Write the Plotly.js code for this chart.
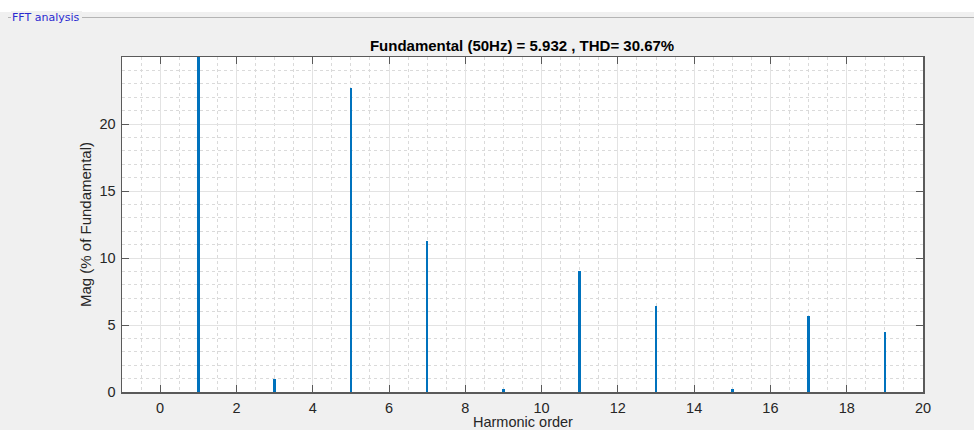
<!DOCTYPE html>
<html>
<head>
<meta charset="utf-8">
<script src="https://cdn.plot.ly/plotly-3.0.1.min.js"></script>
<style>
  html, body { margin: 0; padding: 0; width: 974px; height: 430px; overflow: hidden; background: #f0f0f0; }
  #top { position: absolute; left: 0; top: 0; width: 974px; height: 12px; background: #ffffff; }
  #gline { position: absolute; left: 8px; top: 17px; width: 966px; height: 1px; background: #b4b4b4; }
  #glabel { position: absolute; left: 11px; top: 11px; padding: 0 3px 0 1px; background: #f0f0f0;
            font-family: "DejaVu Sans", sans-serif; font-size: 11px; color: #2a2ad0; line-height: 13px; }
  #chart { position: absolute; left: 0; top: 0; width: 974px; height: 430px; }
</style>
</head>
<body>
<div id="top"></div>
<div id="gline"></div>
<div id="glabel">FFT analysis</div>
<div id="chart"></div>
<script>
const harmonicOrder = [0, 1, 2, 3, 4, 5, 6, 7, 8, 9, 10, 11, 12, 13, 14, 15, 16, 17, 18, 19, 20];
const magPercent    = [0, 100, 0, 0.95, 0, 22.67, 0, 11.29, 0, 0.25, 0, 9.04, 0, 6.40, 0, 0.20, 0, 5.66, 0, 4.51, 0];
const xTickVals = [0, 2, 4, 6, 8, 10, 12, 14, 16, 18, 20];
const yTickVals = [0, 5, 10, 15, 20];
const titleText = "Fundamental (50Hz) = 5.932 , THD= 30.67%";
const xTitle = "Harmonic order";
const yTitle = "Mag (% of Fundamental)";

const axisCol = "#5a5a5a";
const gridCol = "#e3e3e3";
const minorCol = "#dadada";
const font = "Liberation Sans, Arial, sans-serif";

Plotly.newPlot("chart", [{
  type: "bar",
  x: harmonicOrder,
  y: magPercent,
  width: 0.065,
  marker: { color: "#0072BD", line: { width: 0 } },
  hoverinfo: "x+y"
}], {
  width: 974, height: 430,
  margin: { l: 122, r: 51, t: 57, b: 38, pad: 0 },
  paper_bgcolor: "rgba(0,0,0,0)",
  plot_bgcolor: "#ffffff",
  showlegend: false,
  title: { text: "<b>" + titleText + "</b>", font: { family: font, size: 15, color: "#000000" },
           x: 0.536, xanchor: "center", y: 0.894, yanchor: "middle" },
  annotations: [{
    text: xTitle, xref: "paper", yref: "paper", x: 0.5, y: -0.09,
    xanchor: "center", yanchor: "middle", showarrow: false,
    font: { family: font, size: 14.5, color: "#262626" }
  }],
  xaxis: {
    range: [-1, 20], autorange: false,
    tickmode: "array", tickvals: xTickVals,
    ticks: "inside", ticklen: 7, tickwidth: 1, tickcolor: axisCol,
    showline: true, linecolor: axisCol, linewidth: 1.5, mirror: "ticks",
    showgrid: true, gridcolor: gridCol, gridwidth: 1,
    minor: { dtick: 0.5, tick0: 0, showgrid: true, gridcolor: minorCol, griddash: "dot", gridwidth: 1, ticks: "" },
    zeroline: false,
    ticklabelstandoff: 2,
    tickfont: { family: font, size: 14.5, color: "#262626" },
    automargin: false
  },
  yaxis: {
    range: [0, 25], autorange: false,
    tickmode: "array", tickvals: yTickVals,
    ticks: "inside", ticklen: 7, tickwidth: 1, tickcolor: axisCol,
    showline: true, linecolor: axisCol, linewidth: 1.5, mirror: "ticks",
    showgrid: true, gridcolor: gridCol, gridwidth: 1,
    minor: { dtick: 1, tick0: 0, showgrid: true, gridcolor: minorCol, griddash: "dot", gridwidth: 1, ticks: "" },
    zeroline: false,
    ticklabelstandoff: 2,
    tickfont: { family: font, size: 14.5, color: "#262626" },
    title: { text: yTitle, font: { family: font, size: 15, color: "#262626" }, standoff: 4 },
    automargin: false
  },
  bargap: 0
}, { staticPlot: true, displayModeBar: false });
</script>
</body>
</html>
